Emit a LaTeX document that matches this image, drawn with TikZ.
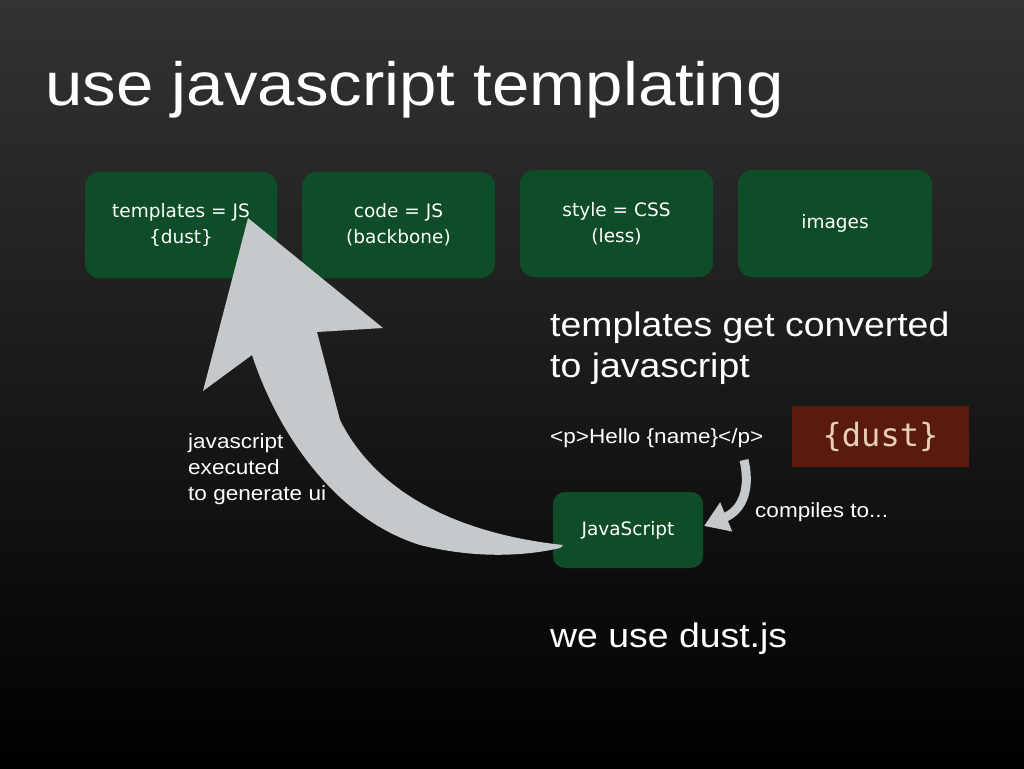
\documentclass[tikz,border=0pt]{standalone}
\usepackage{fontspec}
\setmainfont[FakeStretch=1.1]{Liberation Sans}
\newfontfamily\boxfont{DejaVu Sans}
\newfontfamily\monofont{DejaVu Sans Mono}
\usetikzlibrary{arrows.meta}
\definecolor{boxgreen}{HTML}{0E4D27}
\definecolor{arrowgrey}{HTML}{C5C9CC}
\definecolor{dustred}{HTML}{5A1A0E}
\definecolor{dusttext}{HTML}{E6CFB8}
\tikzset{
  gbox/.style={fill=boxgreen, rounded corners=14pt, text=white, align=center, font=\boxfont\fontsize{18.5}{26}\selectfont, inner sep=0pt},
  txt/.style={text=white, anchor=base west, inner sep=0pt, align=left},
}
\begin{document}
\begin{tikzpicture}[x=1pt,y=-1pt]
\shade[top color=black!80!white, bottom color=black] (0,0) rectangle (1024,768);
\useasboundingbox (0,0) rectangle (1024,768);
\node[txt, font=\fontsize{61}{61}\selectfont] (title) at (45,105) {use javascript templating};

\node[gbox, minimum width=192pt, minimum height=106pt] (b1) at (181,225) {templates = JS\\\{dust\}};
\node[gbox, minimum width=193pt, minimum height=106pt] (b2) at (398.5,225) {code = JS\\(backbone)};
\node[gbox, minimum width=193pt, minimum height=107pt] (b3) at (616.5,223.5) {style = CSS\\(less)};
\node[gbox, minimum width=194pt, minimum height=107pt] (b4) at (835,223.5) {images};

\node[txt, font=\fontsize{34}{41}\selectfont] (conv) at (550,377) {templates get converted\\to javascript};
\node[txt, font=\fontsize{20.5}{20}\selectfont] (html) at (550,443) {<p>Hello \{name\}</p>};
\node[fill=dustred, minimum width=177pt, minimum height=61pt, text=dusttext, font=\monofont\fontsize{32}{32}\selectfont, inner sep=0pt] (dust) at (880.5,436.5) {\{dust\}};
\node[gbox, minimum width=150pt, minimum height=76pt, rounded corners=12pt] (js) at (628,530) {JavaScript};
\node[txt, font=\fontsize{20.5}{20}\selectfont] (comp) at (755,517) {compiles to...};
\node[txt, font=\fontsize{34}{34}\selectfont] (dustjs) at (550,647) {we use dust.js};
\node[txt, font=\fontsize{20.5}{26}\selectfont] (lbl) at (188,500) {javascript\\executed\\to generate ui};

% big curved arrow
\fill[arrowgrey] (563,545) .. controls (470,535) and (380,500) .. (340,420)
  -- (317,332) -- (383,328) -- (248,218) -- (203,391) -- (252,355)
  .. controls (280,440) and (340,520) .. (420,545) .. controls (480,560) and (530,555) .. (560,548) -- cycle;

% small curved arrow
\draw[arrowgrey, line width=9pt, -{Triangle[width=30pt,length=24pt]}] (744,460) .. controls (752,495) and (738,512) .. (704,526);
\end{tikzpicture}
\end{document}
